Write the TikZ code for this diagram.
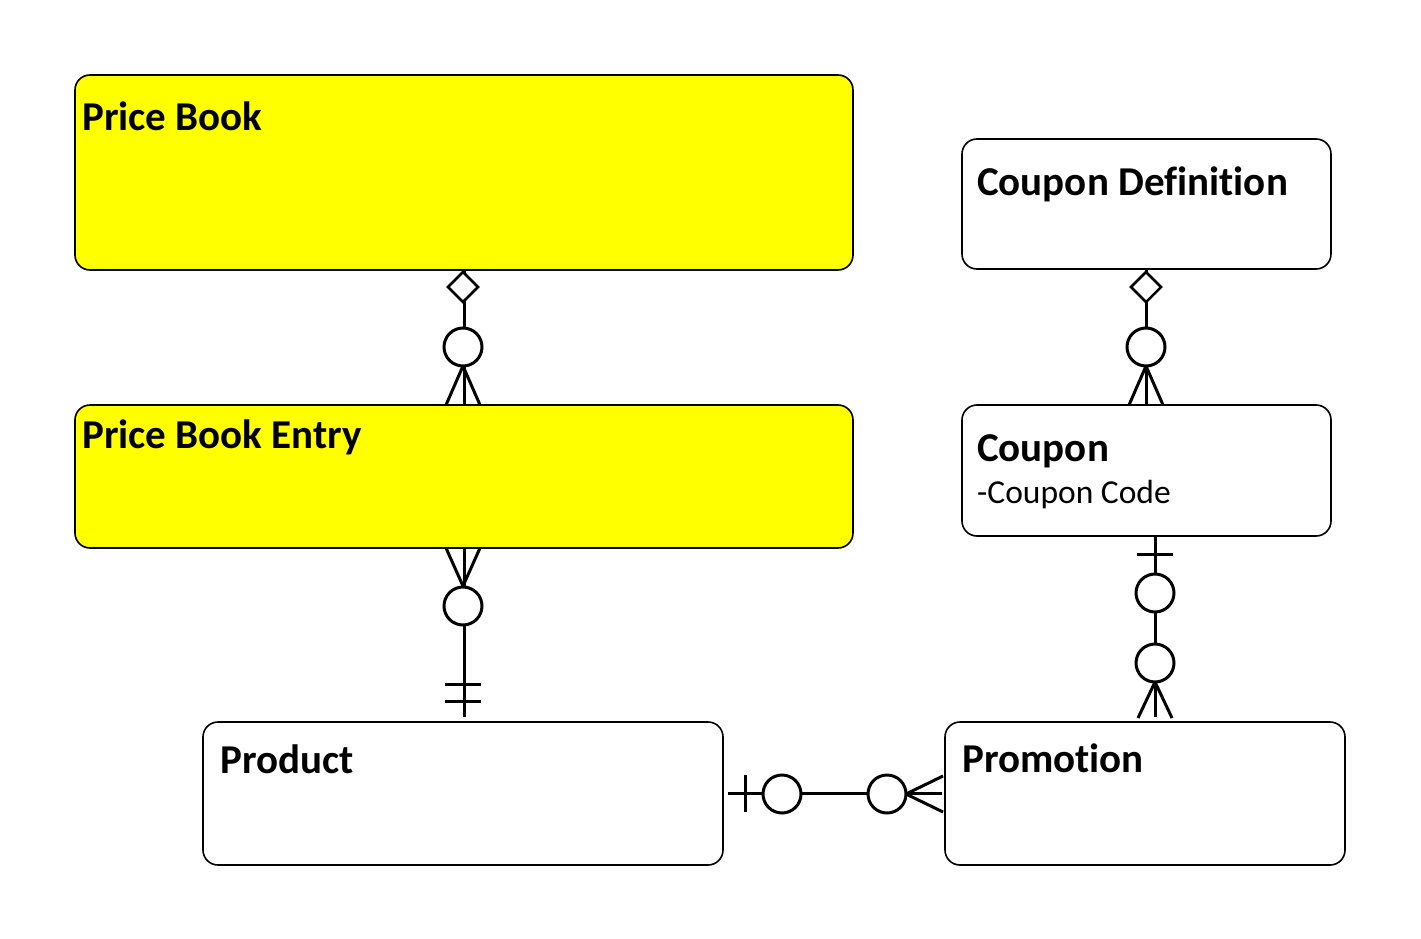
\documentclass[tikz,border=0pt]{standalone}
\usepackage{fontspec}
\setmainfont{Carlito}[Ligatures=NoCommon]
\usepackage{tikz}

\definecolor{pbyellow}{RGB}{255,255,0}

\tikzset{
  entity/.style={draw, line width=1.6pt, rounded corners=15pt, fill=white, inner sep=0pt},
  title/.style={anchor=base west, inner sep=0pt, font=\bfseries\fontsize{41}{49}\selectfont},
  attr/.style={anchor=base west, inner sep=0pt, font=\fontsize{33.5}{40}\selectfont},
  conn/.style={line width=3pt},
  ring/.style={line width=3pt, fill=white},
  gem/.style={line width=2.5pt, fill=white}
}

\begin{document}
\begin{tikzpicture}[x=1pt,y=-1pt]
\useasboundingbox (0,0) rectangle (1421,939);

\node[entity, fill=pbyellow, minimum width=778, minimum height=195] (pb) at (464,172.5) {};
\node[entity, fill=pbyellow, minimum width=778, minimum height=143] (pbe) at (464,476.5) {};
\node[entity, minimum width=369, minimum height=130] (cd) at (1146.5,204) {};
\node[entity, minimum width=369, minimum height=131] (cp) at (1146.5,470.5) {};
\node[entity, minimum width=520, minimum height=143] (pr) at (463,793.5) {};
\node[entity, minimum width=400, minimum height=143] (pm) at (1145,793.5) {};

\node[title] (pbt) at (82,131) {Price Book};
\node[title] (pbet) at (82,448) {Price Book Entry};
\node[title] (cdt) at (977,195) {Coupon Definition};
\node[title] (cpt) at (977,461) {Coupon};
\node[attr] (cpa) at (977,503) {-Coupon Code};
\node[title] (prt) at (220,773) {Product};
\node[title] (pmt) at (962,772) {Promotion};

\draw[conn] (pb.south) -- (pbe.north);
\draw[gem] (463,272) -- (478,287) -- (463,302) -- (448,287) -- cycle;
\draw[ring] (463,347) circle[radius=19];
\draw[conn] (463,366) -- (446,405) (463,366) -- (480,405);

\draw[conn, shorten >=4pt] (pbe.south) -- (pbe.south |- pr.north);
\draw[conn] (446,548) -- (463,586) -- (480,548);
\draw[ring] (463,606) circle[radius=19];
\draw[conn] (445,684) -- (481,684) (445,701) -- (481,701);

\draw[conn] (cd.south) -- (cp.north);
\draw[gem] (1146,272) -- (1161,287) -- (1146,302) -- (1131,287) -- cycle;
\draw[ring] (1146,347) circle[radius=19];
\draw[conn] (1146,366) -- (1129,405) (1146,366) -- (1163,405);

\draw[conn, shorten >=4pt] ([xshift=8.5pt]cp.south) -- ([xshift=10pt]pm.north);
\draw[conn] (1137,554) -- (1173,554);
\draw[ring] (1155,593) circle[radius=19];
\draw[ring] (1155,663) circle[radius=19];
\draw[conn] (1155,682) -- (1138,718) (1155,682) -- (1172,718);

\draw[conn, shorten <=4pt, shorten >=2pt] (pr.east) -- (pm.west);
\draw[conn] (745,775) -- (745,812);
\draw[ring] (782,794) circle[radius=19];
\draw[ring] (887,794) circle[radius=19];
\draw[conn] (906,794) -- (943,776) (906,794) -- (943,812);

\end{tikzpicture}
\end{document}
